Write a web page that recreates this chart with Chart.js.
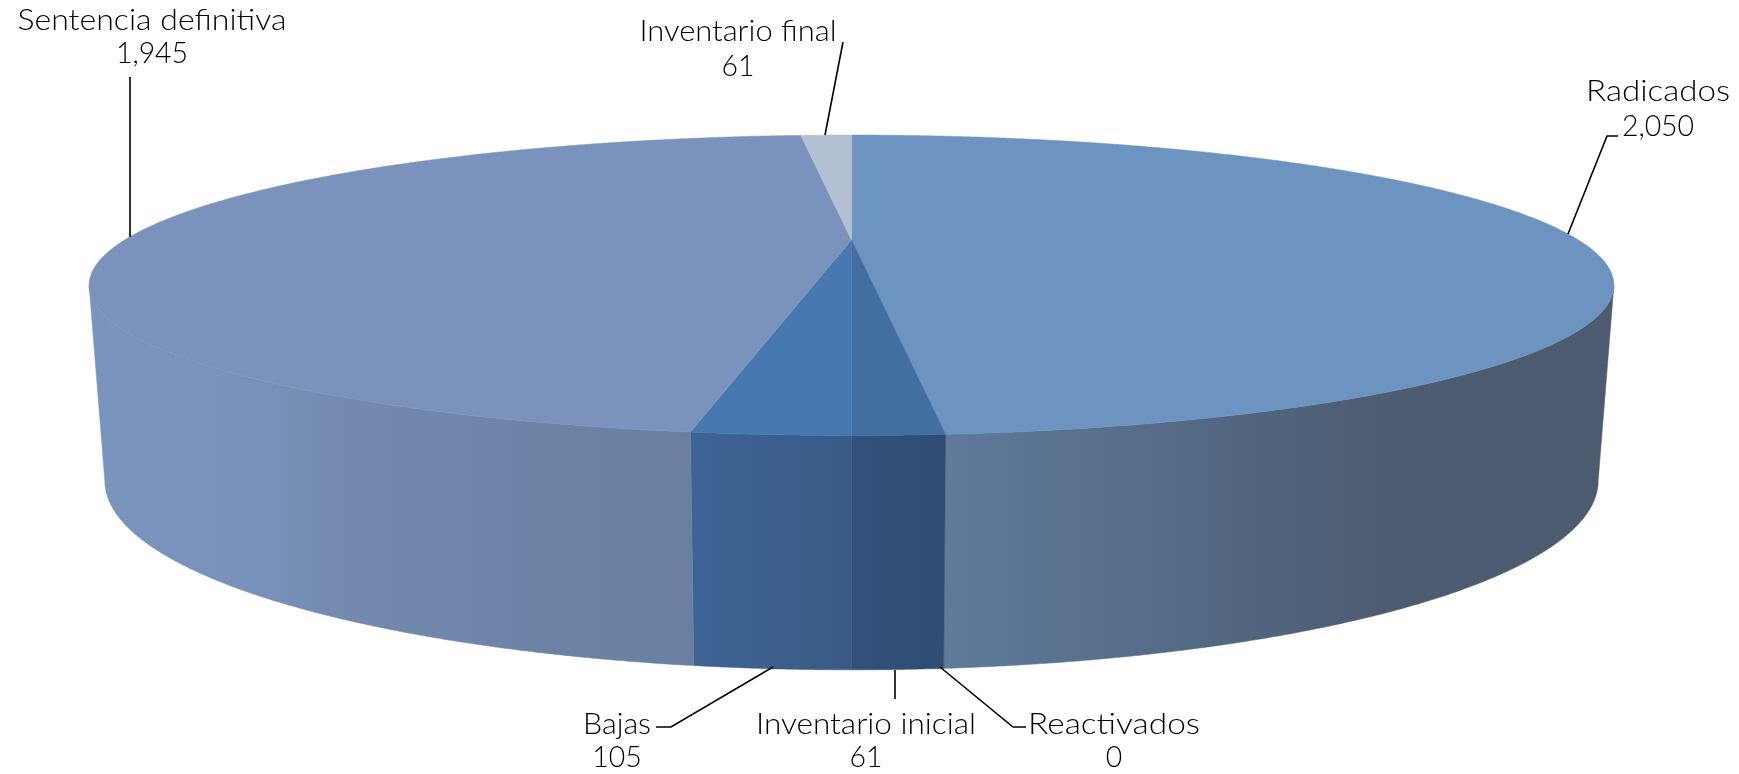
<!DOCTYPE html>
<html><head><meta charset="utf-8">
<style>html,body{margin:0;padding:0;background:#fff}canvas{display:block}</style>
<script src="https://cdn.jsdelivr.net/npm/chart.js@4"></script>
</head><body>
<canvas id="c" width="1739" height="774"></canvas>
<script>
const categories = ["Radicados","Reactivados","Inventario inicial","Bajas","Sentencia definitiva","Inventario final"];
const values = [2050,0,61,105,1945,61];
const topColors = ["#6d94c0","#7ea0c8","#426f9f","#4878b0","#7b93bc","#b3bfd3"];
const wallStops = [
  [[0,"#5f7a9b"],[0.55,"#4f6179"],[0.68,"#4c5b70"],[1,"#4c5b70"]],
  [[0,"#5f7a9b"],[1,"#5f7a9b"]],
  [[0,"#31517b"],[1,"#2f4d73"]],
  [[0,"#3d6496"],[1,"#3a5a85"]],
  [[0,"#7b94bd"],[0.25,"#7a92bb"],[0.43,"#7389ae"],[1,"#697ea0"]],
  [[0,"#9aa8c0"],[1,"#9aa8c0"]]
];
// projection of the pie's top and bottom discs
const TOP = {cx:851.5, cy:240, a:727, b:136.6, k:0.3012};
const BOT = {cx:851.5, cy:424, a:712, b:171.8, k:0.3012};
// label layout: centre x, first/second baseline, fitted width of first line
const labelBoxes = [
  {x:1658,y1:101,y2:136,w:144, line:[[1618,136],[1607,136],[1568,234]]},
  {x:1114,y1:734,y2:767,w:172, line:[[1026,727],[1013,727],[940,667]]},
  {x:866, y1:734,y2:767,w:220, line:[[895,699],[895,670]]},
  {x:617, y1:734,y2:767,w:68,  line:[[656,727],[671,727],[773,667]]},
  {x:152, y1:30, y2:63, w:269, line:[[130,77],[130,237]]},
  {x:738, y1:41, y2:76, w:197, line:[[843,42],[825,135]]}
];
const FONT = '300 29px Lato, "Open Sans", sans-serif';

function proj(P,t){ // t: clockwise angle from 12 o'clock
  const u=Math.sin(t), v=Math.cos(t), w=1+P.k*v;
  return [P.cx+P.a*u/w, P.cy-P.b*v/w];
}
function sample(P,t0,t1){
  const n=Math.max(2,Math.ceil(Math.abs(t1-t0)/0.004)), pts=[];
  for(let i=0;i<=n;i++) pts.push(proj(P,t0+(t1-t0)*i/n));
  return pts;
}
function trace(ctx,pts){ctx.beginPath();pts.forEach((p,i)=>i?ctx.lineTo(p[0],p[1]):ctx.moveTo(p[0],p[1]));ctx.closePath();}
const toT=a=>a+Math.PI/2;
const wallFrom=Math.PI-Math.asin(Math.sqrt(1-TOP.k*TOP.k)); // right silhouette
const wallTo=2*Math.PI-wallFrom;                            // left silhouette

function drawSliceTop(ctx){
  const t0=toT(this.startAngle), t1=toT(this.endAngle);
  if(t1-t0<1e-6) return;
  trace(ctx,[[TOP.cx,TOP.cy],...sample(TOP,t0,t1)]);
  ctx.fillStyle=this.options.backgroundColor;
  ctx.fill();
  ctx.strokeStyle=this.options.backgroundColor;
  ctx.lineWidth=0.5;
  ctx.stroke();
}

const pie3d={
  id:'pie3d',
  afterUpdate(chart){
    chart.getDatasetMeta(0).data.forEach(el=>{el.draw=drawSliceTop;});
  },
  beforeDatasetsDraw(chart){
    const ctx=chart.ctx;
    chart.getDatasetMeta(0).data.forEach((el,i)=>{
      const t0=Math.max(toT(el.startAngle),wallFrom), t1=Math.min(toT(el.endAngle),wallTo);
      if(t1-t0<1e-6) return;
      const up=sample(TOP,t0,t1), dn=sample(BOT,t1,t0);
      const xs=[...up,...dn].map(p=>p[0]);
      const g=ctx.createLinearGradient(Math.min(...xs),0,Math.max(...xs),0);
      wallStops[i].forEach(s=>g.addColorStop(s[0],s[1]));
      trace(ctx,[...up,...dn]);
      ctx.fillStyle=g;
      ctx.fill();
      ctx.strokeStyle=g;
      ctx.lineWidth=0.5;
      ctx.stroke();
    });
  },
  afterDatasetsDraw(chart){
    const ctx=chart.ctx;
    ctx.save();
    ctx.strokeStyle="#000";
    ctx.lineWidth=1.6;
    labelBoxes.forEach(b=>{
      ctx.beginPath();
      b.line.forEach((p,i)=>i?ctx.lineTo(p[0],p[1]):ctx.moveTo(p[0],p[1]));
      ctx.stroke();
    });
    ctx.fillStyle="#000";
    ctx.font=FONT;
    ctx.textAlign="center";
    ctx.textBaseline="alphabetic";
    categories.forEach((name,i)=>{
      const b=labelBoxes[i], sx=b.w/ctx.measureText(name).width;
      ctx.save();
      ctx.translate(b.x,b.y1);ctx.scale(sx,1);
      ctx.fillText(name,0,0);
      ctx.restore();
      ctx.save();
      ctx.translate(b.x,b.y2);ctx.scale(0.98,1);
      ctx.fillText(values[i].toLocaleString('en-US'),0,0);
      ctx.restore();
    });
    ctx.restore();
  }
};

new Chart(document.getElementById('c'),{
  type:'pie',
  data:{labels:categories,datasets:[{data:values,backgroundColor:topColors,borderWidth:0}]},
  options:{
    responsive:false,animation:false,rotation:0,
    layout:{padding:0},
    plugins:{legend:{display:false},tooltip:{enabled:false},title:{display:false}}
  },
  plugins:[pie3d]
});
</script>
</body></html>
